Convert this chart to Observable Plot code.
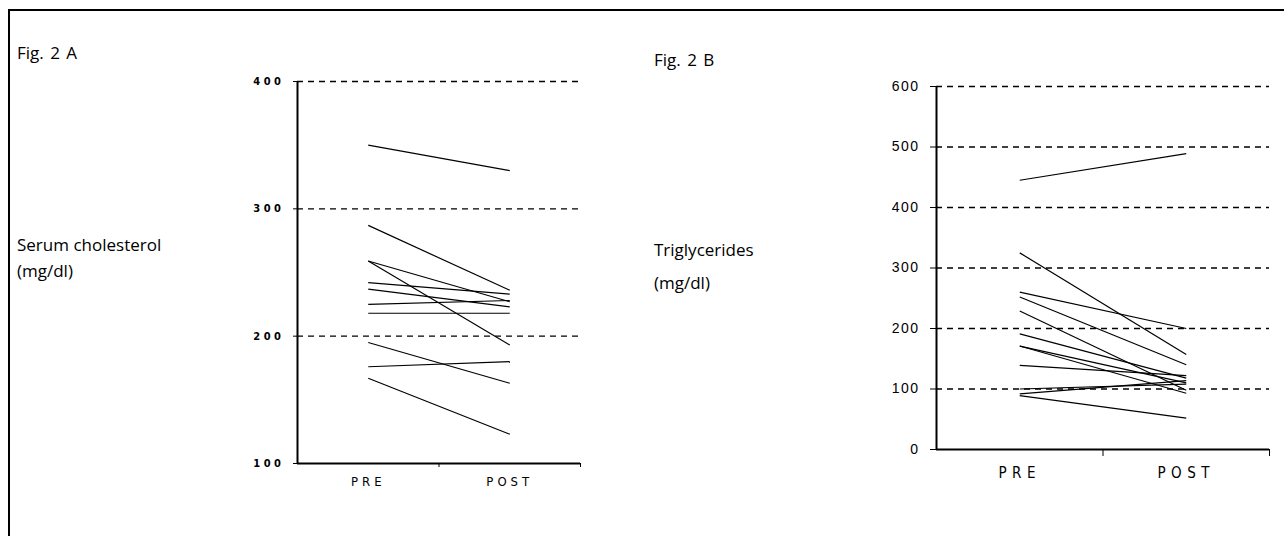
<!DOCTYPE html>
<html><head><meta charset="utf-8">
<script src="https://cdn.jsdelivr.net/npm/d3@7"></script>
<script src="https://cdn.jsdelivr.net/npm/@observablehq/plot@0.6"></script>
<style>
body{margin:0;background:#fff;width:1284px;height:536px;overflow:hidden;position:relative;font-family:"Open Sans",sans-serif;}
.frame{position:absolute;left:8px;top:9px;width:1400px;height:700px;border-left:2.5px solid #000;border-top:2.5px solid #000;}
.lbl{position:absolute;font-size:17px;line-height:1;color:#000;white-space:nowrap;}
.plot{position:absolute;}
.cond text{font-family:"DejaVu Sans Condensed","DejaVu Sans",sans-serif;font-stretch:condensed;}
.pa g[aria-label="y-axis tick label"] text{letter-spacing:3.5px}
.pa g[aria-label="x-axis tick label"] text{letter-spacing:4px}
.pb g[aria-label="y-axis tick label"] text{letter-spacing:1.5px}
.pb g[aria-label="x-axis tick label"] text{letter-spacing:5.5px}
</style></head>
<body>
<div class="frame"></div>
<div class="lbl" style="left:17px;top:44px;word-spacing:2px">Fig. 2 A</div>
<div class="lbl" style="left:17px;top:236px">Serum cholesterol</div>
<div class="lbl" style="left:17px;top:262px">(mg/dl)</div>
<div class="lbl" style="left:654px;top:51px;word-spacing:2px">Fig. 2 B</div>
<div class="lbl" style="left:654px;top:241px">Triglycerides</div>
<div class="lbl" style="left:654px;top:274px">(mg/dl)</div>
<div id="pa" class="plot" style="left:230px;top:60px"></div>
<div id="pb" class="plot" style="left:860px;top:60px"></div>
<script>
const phases = ["PRE", "POST"];
const cholPre  = [350, 287, 259, 259, 242, 237, 225, 218, 195, 176, 167];
const cholPost = [330, 236, 193, 227, 233, 223, 228, 218, 163, 180, 123];
const cholTicks = [100, 200, 300, 400];
const cholGrid = [200, 300, 400];
const trigPre  = [445, 325, 260, 252, 229, 191, 171, 171, 139, 100, 92, 89];
const trigPost = [489, 157, 200, 140, 98, 118, 110, 93, 122, 108, 114, 52];
const trigTicks = [0, 100, 200, 300, 400, 500, 600];
const trigGrid = [100, 200, 300, 400, 500, 600];

const phasePos = phases.map((p, i) => i + 0.5);
const xTicks = [1, 2];

function panel(pre, post, ticks, grid, cfg) {
  const rows = pre.map((v, i) => ({pre: v, post: post[i]}));
  return Plot.plot({
    width: cfg.width, height: cfg.height,
    marginLeft: cfg.ml, marginTop: cfg.mt, marginBottom: cfg.mb, marginRight: cfg.mr,
    className: cfg.cls,
    style: {background: "transparent", overflow: "visible", color: "#000"},
    x: {domain: [0, 2]},
    y: {domain: [ticks[0], ticks[ticks.length - 1]]},
    marks: [
      Plot.ruleY(grid, {stroke: "#000", strokeWidth: 1.4, strokeDasharray: "6 5"}),
      Plot.link(rows, {x1: () => phasePos[0], x2: () => phasePos[1], y1: "pre", y2: "post", stroke: "#000", strokeWidth: 1.2}),
      Plot.ruleX([0], {stroke: "#000", strokeWidth: 2}),
      Plot.ruleY([ticks[0]], {stroke: "#000", strokeWidth: 2}),
      Plot.axisY(ticks, {tickSize: cfg.yTick, tickPadding: cfg.yPad, fontSize: cfg.yFont, fontFamily: cfg.yFamily, fontWeight: cfg.yWeight, label: null, tickFormat: d => String(d), className: cfg.yCls}),
      Plot.axisX(xTicks, {tickSize: cfg.xTick, tickFormat: () => "", label: null}),
      Plot.axisX(phasePos, {tickSize: 0, tickPadding: cfg.xPad, fontSize: cfg.xFont, label: null, className: "cond", tickFormat: d => phases[phasePos.indexOf(d)]})
    ]
  });
}

document.getElementById("pa").append(panel(cholPre, cholPost, cholTicks, cholGrid, {
  width: 370, height: 430, ml: 67, mt: 21, mb: 27, mr: 20, cls: "pa",
  yTick: 4, yPad: 9, yFont: 11, yFamily: "DejaVu Sans", yWeight: "bold", yCls: "cond",
  xTick: 4, xPad: 13, xFont: 13
}));
document.getElementById("pb").append(panel(trigPre, trigPost, trigTicks, trigGrid, {
  width: 420, height: 440, ml: 76, mt: 26, mb: 51, mr: 11, cls: "pb",
  yTick: 6, yPad: 11, yFont: 14, yFamily: "Liberation Sans", yWeight: "normal", yCls: "plain",
  xTick: 7, xPad: 18, xFont: 15
}));
</script>
</body></html>
